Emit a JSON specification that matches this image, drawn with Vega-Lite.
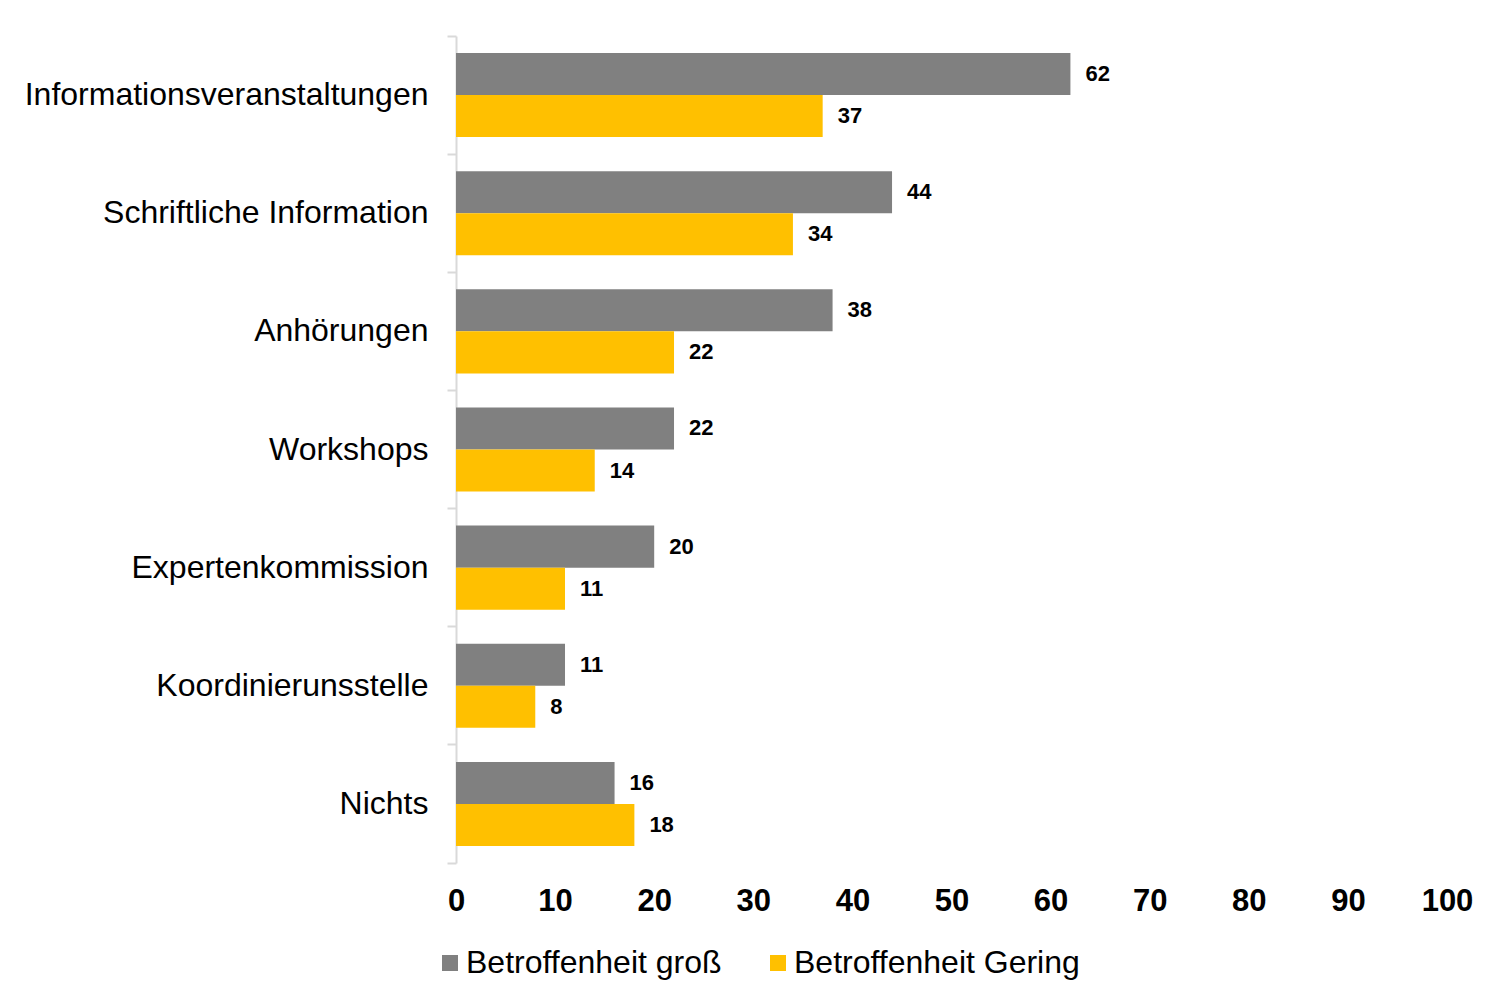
{
  "$schema": "https://vega.github.io/schema/vega-lite/v6.json",
  "autosize": {"type": "none"},
  "padding": {"left": 456, "top": 36, "right": 47, "bottom": 135},
  "width": 991,
  "height": 827,
  "background": "white",
  "config": {"view": {"stroke": null}, "font": "Liberation Sans"},
  "data": {
    "values": [
      {"kategorie": "Informationsveranstaltungen", "gruppe": "Betroffenheit groß", "wert": 62},
      {"kategorie": "Informationsveranstaltungen", "gruppe": "Betroffenheit Gering", "wert": 37},
      {"kategorie": "Schriftliche Information", "gruppe": "Betroffenheit groß", "wert": 44},
      {"kategorie": "Schriftliche Information", "gruppe": "Betroffenheit Gering", "wert": 34},
      {"kategorie": "Anhörungen", "gruppe": "Betroffenheit groß", "wert": 38},
      {"kategorie": "Anhörungen", "gruppe": "Betroffenheit Gering", "wert": 22},
      {"kategorie": "Workshops", "gruppe": "Betroffenheit groß", "wert": 22},
      {"kategorie": "Workshops", "gruppe": "Betroffenheit Gering", "wert": 14},
      {"kategorie": "Expertenkommission", "gruppe": "Betroffenheit groß", "wert": 20},
      {"kategorie": "Expertenkommission", "gruppe": "Betroffenheit Gering", "wert": 11},
      {"kategorie": "Koordinierunsstelle", "gruppe": "Betroffenheit groß", "wert": 11},
      {"kategorie": "Koordinierunsstelle", "gruppe": "Betroffenheit Gering", "wert": 8},
      {"kategorie": "Nichts", "gruppe": "Betroffenheit groß", "wert": 16},
      {"kategorie": "Nichts", "gruppe": "Betroffenheit Gering", "wert": 18}
    ]
  },
  "encoding": {
    "y": {
      "field": "kategorie",
      "type": "nominal",
      "sort": null,
      "scale": {"paddingInner": 0, "paddingOuter": 0},
      "axis": {
        "title": null,
        "bandPosition": 1,
        "tickExtra": true,
        "domainColor": "#d9d9d9",
        "domainWidth": 2,
        "tickColor": "#d9d9d9",
        "tickWidth": 2,
        "tickSize": 9,
        "labelFontSize": 32,
        "labelColor": "#000000",
        "labelPadding": 19,
        "labelLimit": 600
      }
    },
    "yOffset": {
      "field": "gruppe",
      "type": "nominal",
      "sort": ["Betroffenheit groß", "Betroffenheit Gering"],
      "scale": {"paddingInner": 0, "paddingOuter": 0.405}
    },
    "x": {
      "field": "wert",
      "type": "quantitative",
      "scale": {"domain": [0, 100], "nice": false},
      "axis": {
        "title": null,
        "grid": false,
        "domain": false,
        "ticks": false,
        "values": [0, 10, 20, 30, 40, 50, 60, 70, 80, 90, 100],
        "labelFontSize": 31,
        "labelFontWeight": "bold",
        "labelColor": "#000000",
        "labelPadding": 23,
        "labelFlush": false
      }
    }
  },
  "layer": [
    {
      "mark": {"type": "bar"},
      "encoding": {
        "color": {
          "field": "gruppe",
          "type": "nominal",
          "sort": ["Betroffenheit groß", "Betroffenheit Gering"],
          "scale": {"domain": ["Betroffenheit groß", "Betroffenheit Gering"], "range": ["#808080", "#FFC000"]},
          "legend": {
            "title": null,
            "orient": "none",
            "direction": "horizontal",
            "legendX": -22,
            "legendY": 911,
            "symbolType": "square",
            "symbolSize": 256,
            "symbolStrokeWidth": 0,
            "labelFontSize": 32,
            "labelColor": "#000000",
            "labelOffset": 0,
            "columnPadding": 40,
            "labelLimit": 500
          }
        }
      }
    },
    {
      "mark": {"type": "text", "align": "left", "baseline": "middle", "dx": 15, "fontSize": 22, "fontWeight": "bold", "color": "#000000"},
      "encoding": {
        "text": {"field": "wert", "type": "quantitative"}
      }
    }
  ]
}
